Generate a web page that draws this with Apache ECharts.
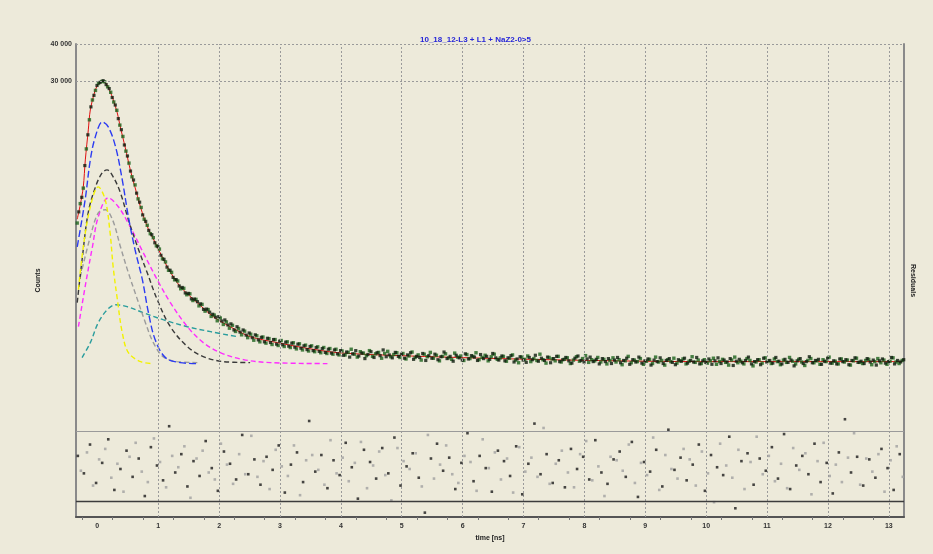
<!DOCTYPE html>
<html><head><meta charset="utf-8">
<script src="https://cdn.jsdelivr.net/npm/echarts@6/dist/echarts.min.js"></script>
<style>html,body{margin:0;padding:0;background:#EDEADA}#c{width:933px;height:554px}</style>
</head><body><div id="c"></div>
<script>
const titleText = '10_18_12-L3 + L1 + NaZ2-0>5';
const xLabelValues = [0,1,2,3,4,5,6,7,8,9,10,11,12,13];
const xGridValues = [1,2,3,4,5,6,7,8,9,10,11,12,13];
const xMinorTicks = [-0.25,0.25,0.75,1.25,1.75,2.25,2.75,3.25,3.75,4.25,4.75,5.25,5.75,6.25,6.75,7.25,7.75,8.25,8.75,9.25,9.75,10.25,10.75,11.25,11.75,12.25,12.75];
const yLabelValues = [40000, 30000];
const yLabelTexts = ['40 000', '30 000'];

// decay data, two interleaved channel sets (time of first channel, channel width in ns)
const chanStartA = -0.33, chanStartB = -0.305, chanWidth = 0.05;
const countsA = [
9900,11520,13000,17650,22150,25850,27850,29400,29850,29800,
28650,27450,25450,23850,21250,19450,17350,15800,14200,13330,
11950,11180,10200,9730,9110,8830,8290,8080,7490,7310,
6850,6740,6360,6300,5930,5950,5660,5700,5410,5460,
5190,5250,4980,5040,4780,4830,4620,4720,4490,4580,
4360,4460,4250,4350,4140,4260,4050,4160,3970,4110,
3920,4070,3880,4020,3840,3990,3810,3960,3780,3920,
3750,3890,3710,3860,3680,3820,3650,3800,3630,3770,
3600,3750,3580,3720,3560,3700,3540,
3650,3540,3610,3700,3560,3480,3630,3590,3520,3660,3500,3570,3610,3450,3580,3640,3490,3550,3600,3470,
3580,3430,3510,3620,3470,3540,3400,3560,3490,3610,3450,3530,3380,3500,3570,3460,3420,3590,3480,3510,3390,3550,3440,3500,3600,3410,3470,3530,3380,3490,3560,3420,3460,
3500,3370,3450,3540,3400,3330,3480,3420,3510,3360,3440,3390,3560,3410,3320,3470,3430,3380,3500,3350,3420,3460,3310,3400,3490,3370,3440,3520,3340,3410,3380,3470,3350,
3420,3300,3390,3460,3350,3410,3280,3380,3500,3330,3400,3360,3440,3290,3370,3420,3310,3480,3350,3390,3270,3410,3360,3450,3320,3380,3430,3300,3370,3490,3340,3400,3310,
3410,3320,3380,3450,3290,3360,3420,3340,3270,3400,3480,3330,3370,3300,3440,3390,3250,3350,3410,3320,
3460,3380,3310,3430,3360,3280,3400,3340,3470,3370,3300,3420,3350,3260,3390,3440,3330,3380,3290,3410,
3360,3480,3320,3370,3300,3430,3350,3400,3270,3380,3450,3340,3310,3390,3420,3280,3360,3440,3330,3400,
3290,3370,3460,3350,3310,3390
];
const countsB = [
10800,12100,15500,19700,24500,26800,28950,29650,30050,29150,
28250,26350,24850,22350,20500,18200,16700,14850,13850,12500,
11650,10550,10030,9350,9040,8490,8240,7700,7460,7020,
6850,6480,6370,6060,5990,5740,5720,5480,5470,5360,
5270,5050,5060,4940,4860,4750,4770,4610,4650,4470,
4510,4300,4410,4230,4300,4130,4200,4050,4140,3980,
4060,3920,4030,3900,3990,3850,3940,3830,3910,3790,
3880,3760,3850,3730,3800,3690,3780,3660,3750,3640,
3720,3610,3700,3590,3680,3570,3660,
3530,3620,3480,3570,3660,3510,3590,3440,3550,3630,3470,3600,3520,3680,3490,3540,3460,3610,3500,3560,
3450,3540,3600,3420,3500,3470,3580,3390,3520,3450,3560,3410,3490,3620,3440,3500,3370,3530,3460,3400,3570,3430,3520,3480,3390,3550,3440,3500,3420,3580,3460,3400,3510,
3380,3460,3520,3350,3430,3490,3400,3340,3470,3410,3530,3370,3450,3390,3480,3330,3440,3500,3360,3410,3470,3380,3320,3450,3510,3390,3350,3430,3480,3360,3420,3300,3440,
3360,3440,3310,3400,3470,3330,3390,3450,3290,3410,3350,3480,3320,3380,3430,3270,3400,3360,3460,3310,3390,3440,3340,3280,3410,3370,3450,3320,3390,3350,3470,3300,3380,
3340,3430,3290,3380,3460,3310,3400,3350,3440,3260,3370,3420,3330,3390,3480,3300,3360,3410,3280,3450,
3350,3390,3320,3470,3370,3300,3420,3340,3400,3250,3380,3440,3310,3360,3490,3330,3390,3420,3290,3370,
3450,3320,3380,3300,3430,3360,3410,3280,3390,3460,3340,3370,3310,3440,3350,3400,3270,3380,3430,3320,
3360,3470,3300,3390,3350,3410
];

// fitted curve [time ns, counts]
const fitCurve = [[-0.33,10200],[-0.28,11410],[-0.23,13130],[-0.197,16200],[-0.148,20470],[-0.115,23910],[-0.033,27950],[0.033,29520],[0.082,29984],[0.148,29290],[0.213,27520],[0.263,25860],[0.328,23360],[0.378,20950],[0.46,17790],[0.542,14990],[0.64,12630],[0.739,10720],[0.837,9468],[0.952,8488],[1.149,7043],[1.363,6026],[1.642,5320],[1.905,4769],[2.184,4411],[2.512,4081],[2.956,3896],[3.383,3747],[3.941,3604],[4.975,3520],[6.617,3439],[8.259,3386],[9.901,3360],[11.54,3360],[13.22,3360]];

// decay components [time ns, counts]
const compBlue = [[-0.33,8228],[-0.2,11870],[-0.115,16200],[-0.033,19380],[0.082,21790],[0.18,20950],[0.3,17930],[0.41,13870],[0.51,10400],[0.62,8037],[0.74,6363],[0.84,4921],[0.95,3988],[1.12,3466],[1.36,3334],[1.64,3308]];
const compBlack = [[-0.33,5320],[-0.25,7436],[-0.15,10720],[-0.03,13130],[0.08,14650],[0.16,14990],[0.26,14200],[0.38,12530],[0.51,10160],[0.66,8228],[0.82,6720],[0.985,5444],[1.2,4411],[1.48,3776],[1.74,3493],[2.07,3360],[2.51,3334]];
const compGray = [[-0.28,6512],[-0.115,8895],[0.016,10720],[0.13,10980],[0.25,10160],[0.38,8228],[0.51,6720],[0.66,5444],[0.79,4552],[0.92,3896],[1.08,3493],[1.31,3360],[1.69,3334]];
const compYellow = [[-0.31,5888],[-0.23,8228],[-0.115,11240],[0.016,13130],[0.13,11870],[0.21,9176],[0.26,7043],[0.33,5444],[0.41,4210],[0.51,3604],[0.71,3360],[0.92,3308]];
const compMagenta = [[-0.31,4411],[-0.2,6026],[-0.08,8228],[0.016,10400],[0.18,12050],[0.345,11240],[0.54,9616],[0.755,7852],[0.985,6363],[1.2,5320],[1.48,4411],[1.74,3896],[2.02,3604],[2.4,3413],[2.84,3334],[3.78,3308]];
const compCyan = [[-0.25,3466],[-0.115,3896],[0.016,4552],[0.164,5037],[0.3,5237],[0.49,5156],[0.755,4921],[1.08,4659],[1.48,4411],[1.86,4243],[2.3,4081]];

// weighted residuals
const resStartBlack = -0.32, resStartGray = -0.27, resWidth = 0.1;
const resBlack = [
1.2,-0.8,2.5,-1.9,0.4,3.1,-2.7,-0.3,1.8,-1.2,
0.9,-3.4,2.2,0.1,-1.6,4.6,-0.7,1.4,-2.3,0.6,
-1.1,2.9,-0.2,-2.8,1.7,0.3,-1.5,3.6,-0.9,0.8,
-2.1,1.1,-0.4,2.4,-3.0,0.2,1.6,-1.8,5.2,-0.6,
1.3,-2.5,0.7,-1.0,2.7,-0.1,-3.7,1.9,0.5,-1.4,
2.1,-0.8,3.3,-2.2,0.0,1.5,-1.3,-5.3,0.9,2.6,
-0.5,1.0,-2.6,0.4,3.8,-1.7,1.2,-0.2,-2.9,1.8,
0.6,-1.1,2.3,-3.2,0.3,4.9,-0.9,1.4,-1.9,0.7,
-2.4,2.0,-0.3,1.1,-1.5,3.0,-0.7,-2.0,0.8,1.7,
-1.2,2.8,-3.5,0.5,-0.6,1.9,-2.3,4.2,-0.4,1.0,
-1.6,0.2,2.5,-2.8,1.3,-0.1,-1.0,3.4,-4.8,0.6,
1.5,-2.1,0.9,-0.5,2.2,-1.4,3.7,-2.6,0.1,1.2,
-0.9,2.6,-1.8,0.4,-3.1,1.6,5.4,-0.7,1.1,-2.2,
0.8,-1.3,2.0,-0.2,-2.7,1.4
];
const resGray = [
-0.5,1.6,-2.2,0.8,2.0,-1.3,0.3,-2.9,1.1,2.7,
-0.6,-1.8,3.2,0.5,-2.4,1.2,-0.1,2.3,-3.6,0.9,
1.8,-0.7,-1.5,2.6,0.2,-2.0,1.4,-0.9,3.5,-1.2,
0.6,-2.6,1.9,0.0,-1.1,2.4,-3.3,0.7,1.3,-0.4,
-2.1,3.0,-0.8,1.0,-1.7,0.4,2.8,-2.5,0.1,1.7,
-1.0,-3.9,2.1,0.6,-0.3,1.5,-2.3,3.6,-1.4,0.2,
2.4,-0.9,-1.9,1.2,0.5,-2.8,3.1,-0.2,1.6,-1.5,
0.9,-3.0,2.2,-0.6,1.0,-1.2,4.4,-2.0,0.3,1.8,
-0.7,-2.4,1.4,2.9,-1.6,0.0,-3.4,1.1,0.7,-0.5,
2.5,-1.9,0.4,-1.0,3.3,-2.7,1.3,-0.3,-1.4,2.0,
0.8,-2.2,1.7,-0.8,-4.1,2.6,0.1,-1.3,1.9,-2.6,
0.5,3.4,-0.9,1.2,-1.7,0.3,-2.5,2.1,-0.4,1.5,
-3.2,0.6,2.7,-1.1,0.2,-1.8,1.0,3.8,-2.1,0.9,
-0.6,1.4,-2.9,0.7,2.3,-1.2
];
const resBounds = [4, -4];

const withTime = (arr, t0, w) => arr.map((v, i) => [+(t0 + i * w).toFixed(4), v]);
const FONT = 'Liberation Sans';

function comp(name, data, color, dash) {
  return {name, type:'line', xAxisIndex:0, yAxisIndex:0, data, smooth:0.35, showSymbol:false, symbol:'none',
    lineStyle:{color, width:1.4, type:dash}, z:2, silent:true};
}

const chart = echarts.init(document.getElementById('c'));
chart.setOption({
  backgroundColor:'#EDEADA',
  animation:false,
  title:{text:titleText, left:415, top:31, textStyle:{color:'#2626d8', fontSize:8, fontWeight:'bold', fontFamily:FONT}},
  grid:[
    {left:76, top:44, width:828, height:473, show:false},
    {left:76, top:414, width:828, height:103, show:false}
  ],
  xAxis:[
    {gridIndex:0, type:'value', min:-0.35, max:13.25,
     name:'time [ns]', nameLocation:'middle', nameGap:13,
     nameTextStyle:{fontSize:7, fontWeight:'bold', color:'#222', fontFamily:FONT},
     axisLine:{show:true, onZero:false, lineStyle:{color:'#555', width:2}},
     axisTick:{show:true, customValues:xMinorTicks, length:3, lineStyle:{color:'#777', width:1}},
     axisLabel:{customValues:xLabelValues, fontSize:7, color:'#333', margin:6, fontWeight:'bold', fontFamily:FONT},
     splitLine:{show:false}},
    {gridIndex:1, type:'value', min:-0.35, max:13.25, show:false}
  ],
  yAxis:[
    {gridIndex:0, type:'log', logBase:10, min:1000, max:40000,
     name:'Counts', nameLocation:'middle', nameGap:34, nameRotate:90,
     nameTextStyle:{fontSize:7, fontWeight:'bold', color:'#222', fontFamily:FONT},
     axisLine:{show:true, onZero:false, lineStyle:{color:'#8a8a8a', width:2}},
     axisTick:{show:false}, axisLabel:{show:false}, splitLine:{show:false}},
    {gridIndex:0, type:'value', position:'right', min:0, max:1,
     name:'Residuals', nameLocation:'middle', nameGap:5, nameRotate:-90,
     nameTextStyle:{fontSize:7, fontWeight:'bold', color:'#222', fontFamily:FONT},
     axisLine:{show:true, onZero:false, lineStyle:{color:'#8a8a8a', width:2}},
     axisTick:{show:false}, axisLabel:{show:false}, splitLine:{show:false}},
    {gridIndex:1, type:'value', min:-5.8, max:6, show:false}
  ],
  series:[
    comp('cyan', compCyan, '#2a9d9d', [5,3]),
    comp('magenta', compMagenta, '#ff2cff', [5,3]),
    comp('gray', compGray, '#9c9c9c', [5,3]),
    comp('black', compBlack, '#3a3a3a', [5,3]),
    comp('yellow', compYellow, '#f2f200', [5,3]),
    comp('blue', compBlue, '#2c3cf2', [7,3]),
    {name:'fit', type:'line', xAxisIndex:0, yAxisIndex:0, data:fitCurve, smooth:0.3, showSymbol:false, symbol:'none',
     lineStyle:{color:'#e01010', width:1}, z:3, silent:true,
     markLine:{silent:true, symbol:['none','none'], animation:false,
       lineStyle:{type:[2,2], color:'#9a9a9a', width:1},
       label:{show:false},
       data: xGridValues.map(v => ({xAxis:v})).concat(
         yLabelValues.map((v, k) => ({yAxis:v,
           label:{show:true, position:'start', distance:4, formatter:yLabelTexts[k], fontSize:7, color:'#333', fontWeight:'bold', fontFamily:FONT}})))
     }},
    {name:'dataA', type:'scatter', xAxisIndex:0, yAxisIndex:0, data:withTime(countsA, chanStartA, chanWidth),
     symbol:'rect', symbolSize:3.4, itemStyle:{color:'#1b631b'}, z:4, silent:true},
    {name:'dataB', type:'scatter', xAxisIndex:0, yAxisIndex:0, data:withTime(countsB, chanStartB, chanWidth),
     symbol:'rect', symbolSize:3.2, itemStyle:{color:'#0c1a0c'}, z:4, silent:true},
    {name:'resGray', type:'scatter', xAxisIndex:1, yAxisIndex:2, data:withTime(resGray, resStartGray, resWidth),
     symbol:'rect', symbolSize:2.6, itemStyle:{color:'#a0a0a0'}, z:4, silent:true},
    {name:'resBlack', type:'scatter', xAxisIndex:1, yAxisIndex:2, data:withTime(resBlack, resStartBlack, resWidth),
     symbol:'rect', symbolSize:2.6, itemStyle:{color:'#1a1a1a'}, z:5, silent:true,
     markLine:{silent:true, symbol:['none','none'], animation:false, label:{show:false},
       data:[
         {yAxis:resBounds[0], lineStyle:{type:'solid', color:'#9a9a9a', width:1.2}},
         {yAxis:resBounds[1], lineStyle:{type:'solid', color:'#3c3c3c', width:1.4}}
       ]}}
  ]
});
</script></body></html>
